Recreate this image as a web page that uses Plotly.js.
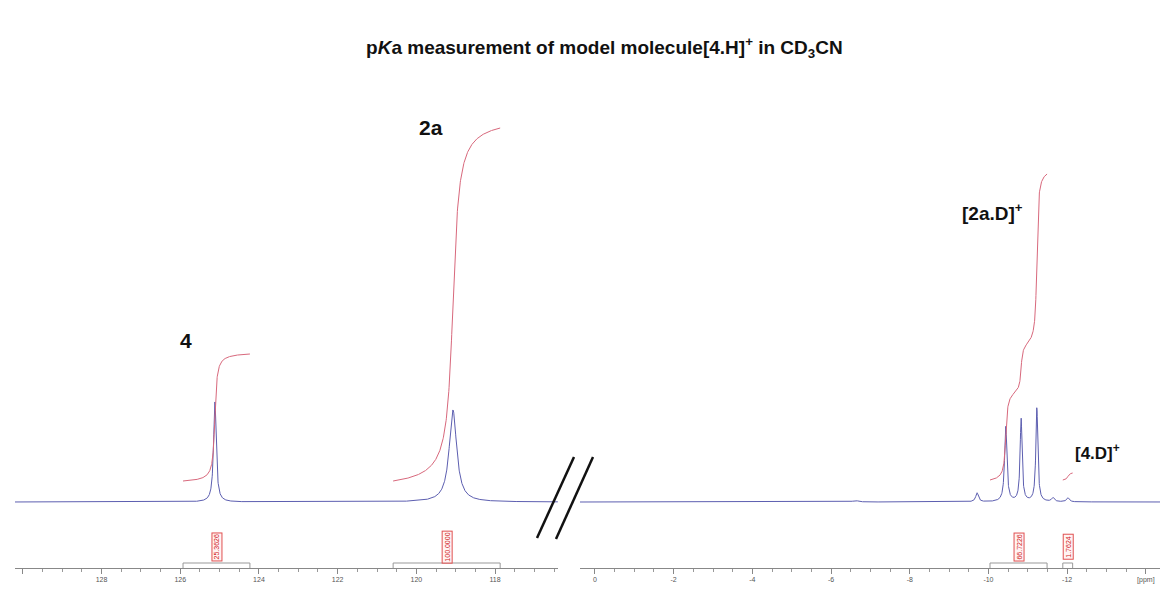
<!DOCTYPE html>
<html>
<head>
<meta charset="utf-8">
<script src="https://cdn.plot.ly/plotly-3.0.1.min.js"></script>
<style>html,body{margin:0;padding:0;background:#fff;}#chart{width:1160px;height:589px;}</style>
</head>
<body>
<div id="chart"></div>
<script>
// ---- Data ----
// Left segment (ppm)
const leftPeakPpm    = [125.12, 119.07];
const leftPeakHeight = [100, 92];
const leftPeakHwhm   = [0.04, 0.115];
// Right segment (ppm)
const rightPeakPpm    = [-6.62, -9.71, -10.44, -10.83, -11.23, -11.64, -12.02];
const rightPeakHeight = [1.5, 9, 75, 83, 94, 4, 4];
const rightPeakHwhm   = [0.08, 0.04, 0.035, 0.03, 0.03, 0.04, 0.04];

// Integrals
const integralLabels = ['25.3626', '100.0000', '66.7226', '1.7624'];
const integralAxis   = ['x', 'x', 'x2', 'x2'];
const integralStart  = [125.93, 120.59, -10.04, -11.89];
const integralEnd    = [124.23, 117.87, -11.49, -12.14];
const integralBase   = [21, 21, 22, 22];
const integralPeaks  = [[125.12], [119.07], [-10.44, -10.83, -11.23], [-12.02]];
const integralHwhm   = [[0.04], [0.115], [0.035, 0.03, 0.03], [0.04]];
const integralSteps  = [[127], [353], [87, 47, 172], [7]];

// Peak labels
const peakLabelText = ['<b>4</b>', '<b>2a</b>', '<b>[2a.D]<sup>+</sup></b>', '<b>[4.D]<sup>+</sup></b>'];
const peakLabelAxis = ['x', 'x', 'x2', 'x2'];
const peakLabelPpm  = [125.85, 119.62, -10.11, -12.76];
const peakLabelY    = [162, 375, 290, 50];
const peakLabelSize = [21, 21, 19, 17];

// Axis ticks
const leftTickVals  = [130, 128, 126, 124, 122, 120, 118];
const leftTickText  = [' ', '128', '126', '124', '122', '120', '118'];
const rightTickVals = [0, -2, -4, -6, -8, -10, -12, -14];
const rightTickText = ['0', '-2', '-4', '-6', '-8', '-10', '-12', '[ppm]'];

const leftRange  = [130.2, 116.4];
const rightRange = [0.38, -14.36];

// ---- Build curves ----
function spectrum(range, ppm, h, w) {
  const xs = [], ys = [];
  const step = 0.004;
  for (let x = range[0]; x >= range[1]; x -= step) {
    let y = 0;
    for (let i = 0; i < ppm.length; i++) {
      const d = (x - ppm[i]) / w[i];
      y += h[i] / (1 + d * d);
    }
    xs.push(x); ys.push(y);
  }
  return {xs, ys};
}
function integral(k) {
  const xs = [], ys = [];
  const s = integralStart[k], e = integralEnd[k];
  const n = 400;
  for (let j = 0; j <= n; j++) {
    const x = s + (e - s) * j / n;
    let y = integralBase[k];
    for (let i = 0; i < integralPeaks[k].length; i++) {
      const p = integralPeaks[k][i], w = integralHwhm[k][i];
      const G = v => Math.atan((p - v) / w);
      y += integralSteps[k][i] * (G(x) - G(s)) / (G(e) - G(s));
    }
    xs.push(x); ys.push(y);
  }
  return {xs, ys};
}

const specColor = '#5c5eb0';
const intColor = '#d8687c';
const traces = [];
const L = spectrum(leftRange, leftPeakPpm, leftPeakHeight, leftPeakHwhm);
const R = spectrum(rightRange, rightPeakPpm, rightPeakHeight, rightPeakHwhm);
traces.push({x: L.xs, y: L.ys, xaxis: 'x', yaxis: 'y', mode: 'lines', line: {color: specColor, width: 1}, hoverinfo: 'skip'});
traces.push({x: R.xs, y: R.ys, xaxis: 'x2', yaxis: 'y', mode: 'lines', line: {color: specColor, width: 1}, hoverinfo: 'skip'});
for (let k = 0; k < integralLabels.length; k++) {
  const I = integral(k);
  traces.push({x: I.xs, y: I.ys, xaxis: integralAxis[k], yaxis: 'y', mode: 'lines', line: {color: intColor, width: 1}, hoverinfo: 'skip'});
}

// ---- Shapes / annotations ----
const shapes = [];
const annotations = [];
for (let k = 0; k < integralLabels.length; k++) {
  const s = integralStart[k], e = integralEnd[k], c = (s + e) / 2;
  const xr = integralAxis[k];
  shapes.push({type: 'path', xref: xr, yref: 'y',
    path: `M ${s} -66 L ${s} -61 L ${e} -61 L ${e} -66`,
    line: {color: '#999', width: 1}});
  annotations.push({xref: xr, yref: 'y', x: c, y: -45, text: integralLabels[k],
    showarrow: false, textangle: -90, font: {family: 'Arial, Liberation Sans', size: 7, color: '#d01818'},
    bordercolor: '#e05050', borderwidth: 1, borderpad: 1, bgcolor: 'rgba(255,235,235,0.6)'});
}
for (let k = 0; k < peakLabelText.length; k++) {
  annotations.push({xref: peakLabelAxis[k], yref: 'y', x: peakLabelPpm[k], y: peakLabelY[k],
    text: peakLabelText[k], showarrow: false,
    font: {family: 'Arial, Liberation Sans', size: peakLabelSize[k], color: '#111'}});
}
// axis-break marks
const px = v => v / 1160, py = v => (568 - v) / 468;
shapes.push({type: 'line', xref: 'paper', yref: 'paper', x0: px(537), y0: py(538), x1: px(574), y1: py(457), line: {color: '#111', width: 2.5}});
shapes.push({type: 'line', xref: 'paper', yref: 'paper', x0: px(556), y0: py(539), x1: px(593), y1: py(457), line: {color: '#111', width: 2.5}});

const axisCommon = {
  showgrid: false, zeroline: false, showline: true, linecolor: '#888', linewidth: 1,
  ticks: 'outside', ticklen: 5, tickcolor: '#888', tickwidth: 1,
  tickfont: {family: 'Arial, Liberation Sans', size: 7, color: '#555'},
  minor: {tickmode: 'linear', tick0: 0, dtick: 0.5, ticks: 'outside', ticklen: 3, tickcolor: '#999'},
  tickmode: 'array', fixedrange: true, anchor: 'y'
};

const layout = {
  width: 1160, height: 589,
  margin: {l: 0, r: 0, t: 100, b: 21},
  paper_bgcolor: '#fff', plot_bgcolor: '#fff',
  showlegend: false,
  title: {text: '<b>p<i>K</i>a measurement of model molecule[4.H]<sup>+</sup> in CD<sub>3</sub>CN</b>',
    x: 0.521, xanchor: 'center', xref: 'paper', y: 1 - 47 / 589, yanchor: 'middle', yref: 'container',
    font: {family: 'Arial, Liberation Sans', size: 19, color: '#111'}},
  xaxis: Object.assign({}, axisCommon, {domain: [15 / 1160, 558 / 1160], range: leftRange, tickvals: leftTickVals, ticktext: leftTickText}),
  xaxis2: Object.assign({}, axisCommon, {domain: [580 / 1160, 1], range: rightRange, tickvals: rightTickVals, ticktext: rightTickText}),
  yaxis: {range: [-66, 402], visible: false, fixedrange: true, domain: [0, 1]},
  shapes: shapes,
  annotations: annotations
};

Plotly.newPlot('chart', traces, layout, {displayModeBar: false, staticPlot: true});
</script>
</body>
</html>
